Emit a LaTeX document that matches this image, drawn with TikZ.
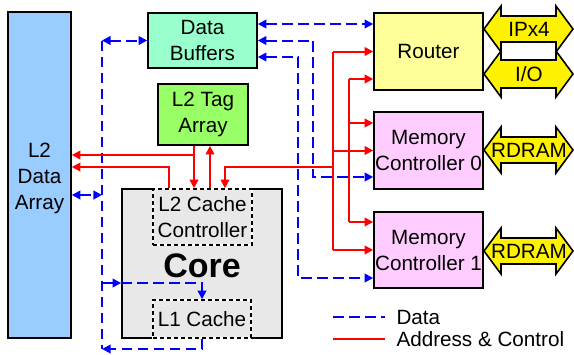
\documentclass[tikz,border=0pt]{standalone}
\usepackage{fontspec}
\setmainfont{Liberation Sans}
\usetikzlibrary{arrows.meta}

\definecolor{arrayblue}{RGB}{153,204,255}
\definecolor{bufgreen}{RGB}{153,255,204}
\definecolor{taggreen}{RGB}{153,255,102}
\definecolor{coregray}{RGB}{232,232,232}
\definecolor{rtryellow}{RGB}{255,255,153}
\definecolor{mcpink}{RGB}{255,204,255}
\definecolor{datablue}{RGB}{0,0,255}
\definecolor{ctrlred}{RGB}{255,0,0}

\tikzset{every picture/.style={line width=0.75pt}}
\tikzset{
  unit/.style={draw=black, line width=1.2pt, align=center, inner sep=0pt, font=\fontsize{15.5}{19.5}\selectfont},
  subunit/.style={draw=black, line width=1.2pt, dash pattern=on 3pt off 2.25pt, align=center, inner sep=0pt, font=\fontsize{15.5}{19.5}\selectfont, preaction={draw=white, solid, line width=1.6pt}},
  bigarrow/.style={draw=black, line width=1.2pt, fill=yellow},
  data/.style={draw=datablue, line width=1.5pt, dash pattern=on 8pt off 4pt},
  ctrl/.style={draw=ctrlred, line width=1.5pt},
  label/.style={inner sep=0pt, align=center, font=\fontsize{15.5}{19.5}\selectfont}
}

\begin{document}
\begin{tikzpicture}[x=0.75pt,y=0.75pt,yscale=-1,xscale=1,>={Triangle[length=6.5pt,width=6.5pt]}]
\useasboundingbox (0,0) rectangle (574,354);

%Shape: Rectangle -- L2 data array
\node (l2d) [unit, fill=arrayblue, minimum width=47.25pt, minimum height=244.5pt] at (39.5,175) {};
\node (l2dlbl) [label] at (39.5,178.5) {L2\\Data\\Array};
%Shape: Rectangle -- data buffers
\node (buf) [unit, fill=bufgreen, minimum width=81.75pt, minimum height=41.25pt] at (202.5,40.5) {Data\\Buffers};
%Shape: Rectangle -- tag array
\node (tag) [unit, fill=taggreen, minimum width=67.5pt, minimum height=45.75pt] at (203,114.5) {L2 Tag\\Array};
%Shape: Rectangle -- core
\node (core) [unit, fill=coregray, minimum width=120pt, minimum height=111.75pt] at (202,263.5) {};
\node (corelbl) [inner sep=0pt, font=\fontsize{25.5}{30}\selectfont\bfseries] at (202,266) {Core};
%Shape: Dashed Rectangle -- L2 cache controller
\node (l2c) [subunit, minimum width=74.25pt, minimum height=42pt] at (202.5,217) {L2 Cache\\Controller};
%Shape: Dashed Rectangle -- L1 cache
\node (l1c) [subunit, minimum width=73.5pt, minimum height=28.5pt] at (202,319) {L1 Cache};
%Shape: Rectangle -- router
\node (rtr) [unit, fill=rtryellow, minimum width=81.75pt, minimum height=57.75pt] at (428.5,51.5) {Router};
%Shape: Rectangle -- memory controllers
\node (mc0) [unit, fill=mcpink, minimum width=81.75pt, minimum height=57.75pt] at (428.5,150.5) {Memory\\Controller 0};
\node (mc1) [unit, fill=mcpink, minimum width=81.75pt, minimum height=57pt] at (428.5,250) {Memory\\Controller 1};

%Shape: Double Arrow -- IPx4
\draw [bigarrow] (484,29) -- (501,6) -- (501,16) -- (556,16) -- (556,6) -- (573,29) -- (556,52) -- (556,42) -- (501,42) -- (501,52) -- cycle ;
%Shape: Double Arrow -- I/O
\draw [bigarrow] (484,74) -- (501,51) -- (501,60) -- (556,60) -- (556,51) -- (573,74) -- (556,97) -- (556,88) -- (501,88) -- (501,97) -- cycle ;
%Shape: Double Arrow -- RDRAM 0
\draw [bigarrow] (484,150) -- (501,127) -- (501,137) -- (556,137) -- (556,127) -- (573,150) -- (556,173) -- (556,163) -- (501,163) -- (501,173) -- cycle ;
%Shape: Double Arrow -- RDRAM 1
\draw [bigarrow] (484,251) -- (501,228) -- (501,238) -- (556,238) -- (556,228) -- (573,251) -- (556,274) -- (556,264) -- (501,264) -- (501,274) -- cycle ;
% Text Node
\node (ipx) [label] at (529,29) {IPx4};
\node (io) [label] at (529,74) {I/O};
\node (rd0) [label] at (529,150) {RDRAM};
\node (rd1) [label] at (529,251) {RDRAM};

%Straight Lines -- data bus on the left
\coordinate (dtop) at (102,40.5);
\coordinate (dbot) at (102,349);
\coordinate (dl2) at (102,195);
\coordinate (dl1) at (102,283);
\draw [data] (dtop) -- (dbot);
\draw [data,<->] (dtop) -- (buf.west);
\draw [data,<->] (l2d.east |- dl2) -- (dl2);
\draw [data,->] (dl1) -- (core.west |- dl1);
\draw [data,->] (core.west |- dl1) -| (l1c.north);
\draw [data,->] (l1c.south) |- (dbot);

%Straight Lines -- data to router and memory controllers
\coordinate (drt) at (300,24);
\coordinate (dm0) at (313,177);
\coordinate (dm1a) at (298,57);
\coordinate (dm1) at (298,278);
\draw [data,<->] (buf.east |- drt) -- (rtr.west |- drt);
\draw [data,<->] (buf.east) -| (dm0) -- (mc0.west |- dm0);
\draw [data,<->] (buf.east |- dm1a) -| (dm1) -- (mc1.west |- dm1);

%Straight Lines -- address and control
\coordinate (tg) at (194,155);
\coordinate (cl) at (169,167);
\coordinate (ct) at (210,167);
\coordinate (cr) at (225,167);
\coordinate (rj) at (333,167);
\draw [ctrl,->] (tag.south -| tg) -- (l2c.north -| tg);
\draw [ctrl,->] (tg) -- (l2d.east |- tg);
\draw [ctrl,->] (l2c.north -| cl) |- (l2d.east |- cl);
\draw [ctrl,->] (l2c.north -| ct) -- (tag.south -| ct);
\draw [ctrl,->] (rj) -| (l2c.north -| cr);
\draw [ctrl] (rj |- rtr.west) -- (rj |- mc1.west);
\draw [ctrl,->] (rj |- rtr.west) -- (rtr.west);
\draw [ctrl,->] (rj |- mc0.west) -- (mc0.west);
\draw [ctrl,->] (rj |- mc1.west) -- (mc1.west);
\coordinate (ra) at (349,79);
\coordinate (rb) at (349,123);
\coordinate (rc) at (349,222);
\draw [ctrl] (ra) -- (rc);
\draw [ctrl,->] (ra) -- (rtr.west |- ra);
\draw [ctrl,->] (rb) -- (mc0.west |- rb);
\draw [ctrl,->] (rc) -- (mc1.west |- rc);

%Legend
\coordinate (lgd) at (333,317);
\coordinate (lgde) at (385,317);
\coordinate (lgc) at (333,339);
\coordinate (lgce) at (385,339);
\draw [data] (lgd) -- (lgde);
\draw [ctrl] (lgc) -- (lgce);
% Text Node
\node (ldata) [label, anchor=west] at (396,317) {Data};
\node (lctrl) [label, anchor=west] at (396,339) {Address \& Control};

\end{tikzpicture}
\end{document}
